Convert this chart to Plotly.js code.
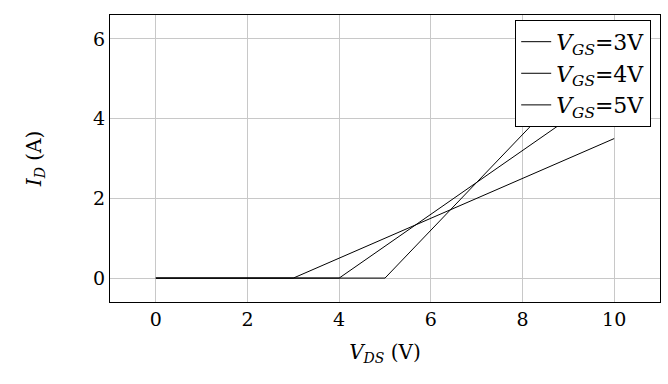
<!DOCTYPE html>
<html>
<head>
<meta charset="utf-8">
<script src="https://cdn.plot.ly/plotly-3.0.1.min.js"></script>
<style>html,body{margin:0;padding:0;background:#fff;}#chart{width:668px;height:384px;}</style>
</head>
<body>
<div id="chart"></div>
<script>
// Data
const vds3 = [0, 3, 10];
const id3 = [0, 0, 3.5];
const vds4 = [0, 4, 10];
const id4 = [0, 0, 4.8];
const vds5 = [0, 5, 10];
const id5 = [0, 0, 6];
const seriesNames = [
  '<i>V</i><sub><i>GS</i></sub>=3V',
  '<i>V</i><sub><i>GS</i></sub>=4V',
  '<i>V</i><sub><i>GS</i></sub>=5V'
];
const xTicks = [0, 2, 4, 6, 8, 10];
const yTicks = [0, 2, 4, 6];

const serif = 'DejaVu Serif, Liberation Serif, serif';
const lineStyle = {color: '#000', width: 1};
const traces = [
  {x: vds3, y: id3, name: seriesNames[0]},
  {x: vds4, y: id4, name: seriesNames[1]},
  {x: vds5, y: id5, name: seriesNames[2]}
].map(t => Object.assign(t, {type: 'scatter', mode: 'lines', line: lineStyle}));

const axisCommon = {
  showline: true, mirror: true, linecolor: '#000', linewidth: 1,
  showgrid: true, gridcolor: '#c8c8c8', gridwidth: 1,
  zeroline: false, ticks: '', tickfont: {family: serif, size: 19, color: '#000'}
};

const layout = {
  width: 668, height: 384,
  margin: {l: 110, r: 8, t: 15, b: 82},
  paper_bgcolor: '#fff', plot_bgcolor: '#fff',
  showlegend: true,
  xaxis: Object.assign({}, axisCommon, {
    range: [-1, 11], tickvals: xTicks, ticktext: xTicks.map(String),
    title: {text: '<i>V</i><sub><i>DS</i></sub> (V)', font: {family: serif, size: 20, color: '#000'}, standoff: 16}
  }),
  yaxis: Object.assign({}, axisCommon, {
    range: [-0.6, 6.6], tickvals: yTicks, ticktext: yTicks.map(String),
    title: {text: '<i>I</i><sub><i>D</i></sub> (A)', font: {family: serif, size: 20, color: '#000'}, standoff: 46}
  }),
  legend: {
    x: 0.984, y: 0.983, xanchor: 'right', yanchor: 'top',
    bgcolor: '#fff', bordercolor: '#000', borderwidth: 1,
    font: {family: serif, size: 22, color: '#000'},
    tracegroupgap: 0
  }
};

Plotly.newPlot('chart', traces, layout, {displayModeBar: false, staticPlot: true});
</script>
</body>
</html>
